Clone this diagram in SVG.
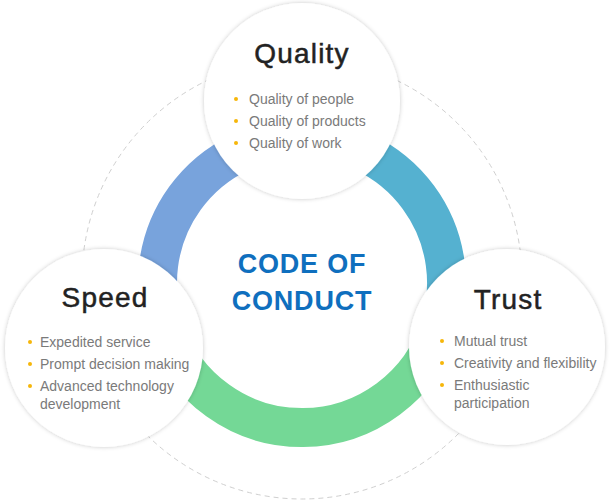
<svg xmlns="http://www.w3.org/2000/svg" width="613" height="503" viewBox="0 0 613 503">
<defs>
<filter id="sh" x="-10%" y="-10%" width="120%" height="120%">
<feDropShadow dx="0" dy="0" stdDeviation="2" flood-color="#000" flood-opacity="0.22"/>
</filter>
<style>
.node{fill:#fff;filter:url(#sh)}
.title{font-family:"Liberation Sans",Arial,sans-serif;font-size:28px;fill:#222;stroke:#222;stroke-width:0.5px;text-anchor:middle;letter-spacing:1.2px}
.item{font-family:"Liberation Sans",Arial,sans-serif;font-size:14px;fill:#7a7a7a}
.dot{fill:#f6b60a}
.arc{fill:none;stroke-width:39}
.center{font-family:"Liberation Sans",Arial,sans-serif;font-size:27px;font-weight:bold;fill:#0f6fbe;text-anchor:middle;letter-spacing:0.8px}
</style>
</defs>
<rect width="613" height="503" fill="#fff"/>
<circle cx="302" cy="279" r="220" fill="none" stroke="#cfcfcf" stroke-width="1" stroke-dasharray="5,4"/>
<g id="connectors">
<path class="arc" stroke="#78a3dc" d="M164.7,328.1 A144.5,144.5 0 0 1 302,138.5"/>
<path class="arc" stroke="#55b1d0" d="M302,138.5 A144.5,144.5 0 0 1 440,326"/>
<path class="arc" stroke="#74d896" d="M440,326 A144.5,144.5 0 0 1 164.7,328.1"/>
</g>
<g id="center">
<text class="center" x="302" y="273">CODE OF</text>
<text class="center" x="302" y="310">CONDUCT</text>
</g>
<g id="quality">
<circle class="node" cx="302" cy="101" r="98"/>
<text class="title" x="302" y="63">Quality</text>
<circle class="dot" cx="236" cy="99" r="2"/>
<text class="item" x="249" y="104">Quality of people</text>
<circle class="dot" cx="236" cy="121" r="2"/>
<text class="item" x="249" y="126">Quality of products</text>
<circle class="dot" cx="236" cy="143" r="2"/>
<text class="item" x="249" y="148">Quality of work</text>
</g>
<g id="speed">
<circle class="node" cx="104" cy="348" r="99"/>
<text class="title" x="105" y="307">Speed</text>
<circle class="dot" cx="30" cy="342" r="2"/>
<text class="item" x="40" y="347">Expedited service</text>
<circle class="dot" cx="30" cy="364" r="2"/>
<text class="item" x="40" y="369">Prompt decision making</text>
<circle class="dot" cx="30" cy="386" r="2"/>
<text class="item" x="40" y="391">Advanced technology</text>
<text class="item" x="40" y="409">development</text>
</g>
<g id="trust">
<circle class="node" cx="507" cy="347" r="98"/>
<text class="title" x="508" y="309">Trust</text>
<circle class="dot" cx="442" cy="341" r="2"/>
<text class="item" x="454" y="346">Mutual trust</text>
<circle class="dot" cx="442" cy="363" r="2"/>
<text class="item" x="454" y="368">Creativity and flexibility</text>
<circle class="dot" cx="442" cy="385" r="2"/>
<text class="item" x="454" y="390">Enthusiastic</text>
<text class="item" x="454" y="408">participation</text>
</g>
</svg>
